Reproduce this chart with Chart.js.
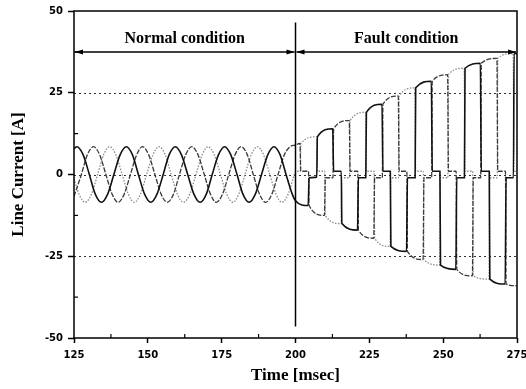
<!DOCTYPE html>
<html>
<head>
<meta charset="utf-8">
<script src="https://cdn.jsdelivr.net/npm/chart.js@4.4.1/dist/chart.umd.min.js"></script>
<style>
    html, body { margin: 0; padding: 0; background: #fff; }
    canvas { display: block; }
</style>
</head>
<body>
<canvas id="currentChart" width="526" height="389"></canvas>
<script>
// phase A (solid black): sinusoid up to 200 ms, then six-step pulses
const phaseATime = [
    125.0, 126.0, 128.1, 130.2, 132.2, 134.3, 136.4, 138.5, 140.6, 142.7,
    144.8, 146.8, 148.9, 151.0, 153.1, 155.2, 157.2, 159.3, 161.4, 163.5,
    165.6, 167.7, 169.8, 171.8, 173.9, 176.0, 178.1, 180.2, 182.2, 184.3,
    186.4, 188.5, 190.6, 192.7, 194.8, 196.8, 198.9,
    200.0, 204.3, 204.6, 207.2, 207.4, 212.6, 212.9, 215.5, 215.7, 221.0,
    221.3, 223.8, 224.0, 229.3, 229.6, 232.1, 232.3, 237.6, 237.9, 240.5,
    240.7, 246.0, 246.3, 248.9, 249.1, 254.3, 254.6, 257.2, 257.4, 262.6,
    262.9, 265.6, 265.8, 271.0, 271.3, 273.8, 274.0, 275.0
];
const phaseACurrent = [
    7.9, 8.5, 6, 0, -6, -8.5, -6, 0, 6, 8.5,
    6, 0, -6, -8.5, -6, 0, 6, 8.5, 6, 0,
    -6, -8.5, -6, 0, 6, 8.5, 6, 0, -6, -8.5,
    -6, 0, 6, 8.5, 6, 0, -6,
    -8, -9.5, -1, -0.8, 11.5, 14, 1, 1, -15, -17,
    -1, -1, 19, 21.5, 1, 1, -22, -23.5, -1, -1,
    26.5, 28.5, 1, 1, -27.7, -29, -1, -1, 32.5, 34,
    1, 1, -32, -33.5, -1, -1, 37, 37
];

// phase B (dark grey, dashed)
const phaseBTime = [
    125.0, 127.5, 129.5, 131.6, 133.7, 135.8, 137.9, 139.9, 142.0, 144.1,
    146.2, 148.2, 150.3, 152.4, 154.5, 156.6, 158.7, 160.7, 162.8, 164.9,
    167.0, 169.1, 171.2, 173.2, 175.3, 177.4, 179.5, 181.6, 183.7, 185.7,
    187.8, 189.9, 192.0, 194.1, 196.2, 198.2,
    200.0, 201.5, 201.8, 204.4, 204.6, 209.8, 210.1, 212.7, 212.9, 218.2,
    218.5, 221.1, 221.3, 226.5, 226.8, 229.4, 229.6, 234.8, 235.1, 237.7,
    237.9, 243.2, 243.5, 246.1, 246.3, 251.5, 251.8, 254.4, 254.6, 259.9,
    260.2, 262.7, 262.9, 268.2, 268.5, 271.1, 271.3, 275.0
];
const phaseBCurrent = [
    -6.7, 0, 6, 8.5, 6, 0, -6, -8.5, -6, 0,
    6, 8.5, 6, 0, -6, -8.5, -6, 0, 6, 8.5,
    6, 0, -6, -8.5, -6, 0, 6, 8.5, 6, 0,
    -6, -8.5, -6, 0, 6, 8.5,
    9, 9.5, 1, 1, -9.5, -12.5, -1, -1, 14, 16.5,
    1, 1, -17, -19.5, -1, -1, 21.5, 24, 1, 1,
    -23.5, -26, -1, -1, 28.5, 30.5, 1, 1, -29, -31,
    -1, -1, 34, 35.5, 1, 1, -33.5, -34
];

// phase C (light grey, dotted)
const phaseCTime = [
    125.0, 126.7, 128.8, 130.9, 133.0, 135.0, 137.1, 139.2, 141.3, 143.4,
    145.4, 147.5, 149.6, 151.7, 153.8, 155.9, 157.9, 160.0, 162.1, 164.2,
    166.3, 168.4, 170.4, 172.5, 174.6, 176.7, 178.8, 180.8, 182.9, 185.0,
    187.1, 189.2, 191.3, 193.4, 195.4, 197.5, 199.6,
    200.0, 201.6, 201.8, 207.1, 207.4, 209.9, 210.1, 215.4, 215.7, 218.3,
    218.5, 223.7, 224.0, 226.6, 226.8, 232.0, 232.3, 234.9, 235.1, 240.4,
    240.7, 243.3, 243.5, 248.8, 249.1, 251.6, 251.8, 257.1, 257.4, 260.0,
    260.2, 265.5, 265.8, 268.3, 268.5, 273.7, 274.0, 275.0
];
const phaseCCurrent = [
    -1.3, -6, -8.5, -6, 0, 6, 8.5, 6, 0, -6,
    -8.5, -6, 0, 6, 8.5, 6, 0, -6, -8.5, -6,
    0, 6, 8.5, 6, 0, -6, -8.5, -6, 0, 6,
    8.5, 6, 0, -6, -8.5, -6, 0,
    1, 1, 9.5, 11.5, 1, 1, -12.5, -15, -1, -1,
    16.5, 19, 1, 1, -19.5, -22, -1, -1, 24, 26.5,
    1, 1, -26, -27.7, -1, -1, 30.5, 32.5, 1, 1,
    -31, -32, -1, -1, 35.5, 37, 1, 1
];

const xTicks = [125, 150, 175, 200, 225, 250, 275];
const yTicks = [-50, -25, 0, 25, 50];
const gridLevels = [25, 0, -25];
const faultTime = 200;
const conditions = [
    { label: "Normal condition", from: 125, to: 200 },
    { label: "Fault condition", from: 200, to: 275 }
];

const toPoints = (times, values) => times.map((t, i) => ({ x: t, y: values[i] }));

const notes = {
    id: "notes",
    beforeDatasetsDraw(chart) {
        const { ctx, chartArea: a, scales: { y } } = chart;
        ctx.save();
        ctx.strokeStyle = "#333";
        ctx.lineWidth = 1;
        ctx.setLineDash([2, 3]);
        gridLevels.forEach(v => {
            const py = Math.round(y.getPixelForValue(v)) + 0.5;
            ctx.beginPath();
            ctx.moveTo(a.left, py);
            ctx.lineTo(a.right, py);
            ctx.stroke();
        });
        ctx.restore();
    },
    afterDatasetsDraw(chart) {
        const { ctx, chartArea: a, scales: { x, y } } = chart;
        ctx.save();
        ctx.strokeStyle = "#000";
        ctx.fillStyle = "#000";

        // frame
        ctx.lineWidth = 1.5;
        ctx.strokeRect(a.left, a.top, a.right - a.left, a.bottom - a.top);

        // minor ticks, pointing inwards
        ctx.lineWidth = 1.2;
        for (let v = 137.5; v < 275; v += 25) {
            const px = x.getPixelForValue(v);
            ctx.beginPath();
            ctx.moveTo(px, a.bottom);
            ctx.lineTo(px, a.bottom - 4);
            ctx.stroke();
        }
        for (let v = -37.5; v < 50; v += 25) {
            const py = y.getPixelForValue(v);
            ctx.beginPath();
            ctx.moveTo(a.left, py);
            ctx.lineTo(a.left + 4, py);
            ctx.stroke();
        }

        // fault instant
        const fx = x.getPixelForValue(faultTime);
        ctx.lineWidth = 1.5;
        ctx.beginPath();
        ctx.moveTo(fx, y.getPixelForValue(46.5));
        ctx.lineTo(fx, y.getPixelForValue(-46.5));
        ctx.stroke();

        // double arrows and labels
        const ay = y.getPixelForValue(37.5);
        ctx.font = "bold 16px 'Liberation Serif'";
        ctx.textAlign = "center";
        ctx.textBaseline = "alphabetic";
        conditions.forEach(c => {
            const x1 = x.getPixelForValue(c.from) + 1;
            const x2 = x.getPixelForValue(c.to) - 1;
            ctx.lineWidth = 1.5;
            ctx.beginPath();
            ctx.moveTo(x1, ay);
            ctx.lineTo(x2, ay);
            ctx.stroke();
            ctx.beginPath();
            ctx.moveTo(x1, ay);
            ctx.lineTo(x1 + 8, ay - 2.5);
            ctx.lineTo(x1 + 8, ay + 2.5);
            ctx.closePath();
            ctx.fill();
            ctx.beginPath();
            ctx.moveTo(x2, ay);
            ctx.lineTo(x2 - 8, ay - 2.5);
            ctx.lineTo(x2 - 8, ay + 2.5);
            ctx.closePath();
            ctx.fill();
            ctx.fillText(c.label, (x1 + x2) / 2, y.getPixelForValue(38.8) - 5);
        });
        ctx.restore();
    }
};

const tickFont = { family: "'DejaVu Sans'", size: 10, weight: "bold" };
const titleFont = { family: "'Liberation Serif'", size: 17, weight: "bold" };

new Chart(document.getElementById("currentChart").getContext("2d"), {
    type: "line",
    data: {
        datasets: [
            {
                label: "Phase a",
                data: toPoints(phaseATime, phaseACurrent),
                borderColor: "#111",
                borderWidth: 1.6
            },
            {
                label: "Phase b",
                data: toPoints(phaseBTime, phaseBCurrent),
                borderColor: "#3a3a3a",
                borderWidth: 1.3,
                borderDash: [5, 1.5]
            },
            {
                label: "Phase c",
                data: toPoints(phaseCTime, phaseCCurrent),
                borderColor: "#8a8a8a",
                borderWidth: 1.3,
                borderDash: [1.5, 1.5]
            }
        ]
    },
    options: {
        responsive: false,
        animation: false,
        devicePixelRatio: 1,
        layout: { padding: { top: 10, right: 9, left: 0, bottom: 0 } },
        elements: {
            point: { radius: 0 },
            line: { cubicInterpolationMode: "monotone", fill: false }
        },
        plugins: {
            legend: { display: false },
            tooltip: { enabled: false }
        },
        scales: {
            x: {
                type: "linear",
                min: 125,
                max: 275,
                afterFit(scale) {
                    scale.height = 51;
                    scale.paddingLeft = 0;
                    scale.paddingRight = 0;
                },
                afterBuildTicks(scale) {
                    scale.ticks = xTicks.map(v => ({ value: v }));
                },
                ticks: {
                    autoSkip: false,
                    maxRotation: 0,
                    padding: 6,
                    color: "#000",
                    font: tickFont,
                    callback: v => String(v)
                },
                grid: {
                    drawOnChartArea: false,
                    tickLength: 5,
                    tickWidth: 1.5,
                    tickColor: "#000"
                },
                border: { display: false },
                title: {
                    display: true,
                    text: "Time [msec]",
                    color: "#000",
                    font: titleFont,
                    padding: { top: 0, bottom: 3 }
                }
            },
            y: {
                type: "linear",
                min: -50,
                max: 50,
                afterFit(scale) {
                    scale.width = 74;
                },
                afterBuildTicks(scale) {
                    scale.ticks = yTicks.map(v => ({ value: v }));
                },
                ticks: {
                    autoSkip: false,
                    padding: 5,
                    color: "#000",
                    font: tickFont,
                    callback: v => String(v)
                },
                grid: {
                    drawOnChartArea: false,
                    tickLength: 6,
                    tickWidth: 1.5,
                    tickColor: "#000"
                },
                border: { display: false },
                title: {
                    display: true,
                    text: "Line Current [A]",
                    color: "#000",
                    font: titleFont,
                    padding: { top: 8, bottom: 0 }
                }
            }
        }
    },
    plugins: [notes]
});
</script>
</body>
</html>
